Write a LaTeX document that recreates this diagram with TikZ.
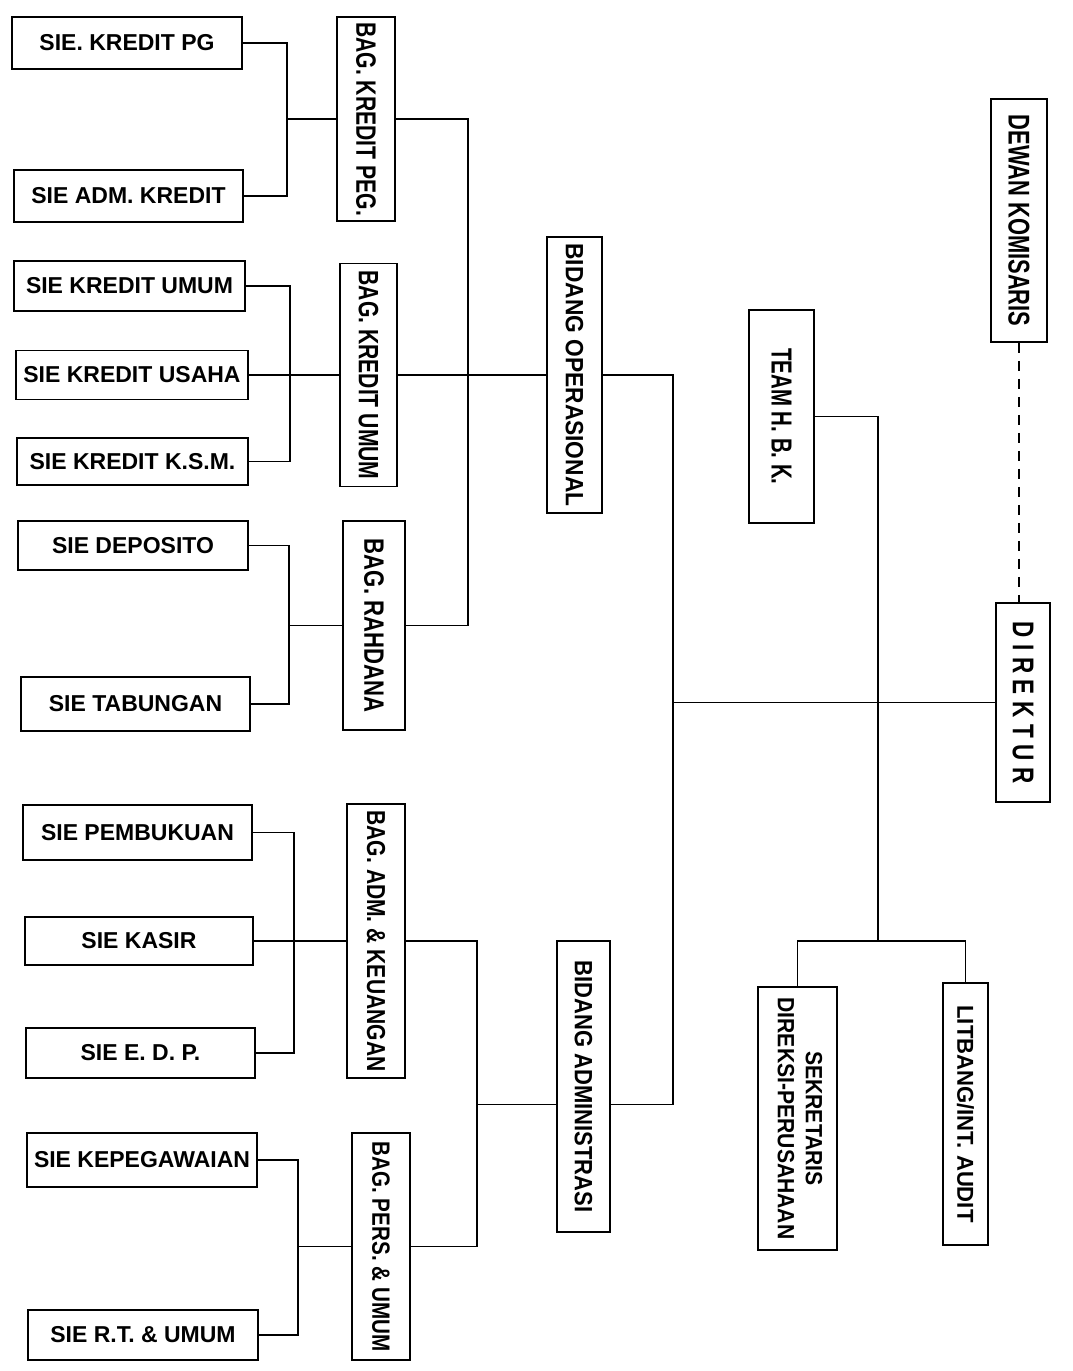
\documentclass[tikz,border=0pt]{standalone}
\usepackage{fontspec}
\setmainfont{Liberation Sans}
\usepackage{graphicx}
\newcommand{\vtext}[3]{\rotatebox{-90}{\scalebox{#2}[1]{\fontsize{#1}{#1}\selectfont #3}}}
\tikzset{
  box/.style={draw, line width=1.7pt, inner sep=0pt, font=\bfseries, align=center},
  hbox/.style={box, font=\bfseries\fontsize{23}{23}\selectfont},
  conn/.style={line width=1.6pt},
  dashconn/.style={line width=1.6pt, dash pattern=on 10pt off 8pt}
}
\begin{document}
\begin{tikzpicture}[x=1pt, y=-1pt]
\path[use as bounding box, fill=white] (0,0) rectangle (1072,1371);

% section boxes
\node[hbox, minimum width=230pt, minimum height=52pt] (kpg) at (127,43) {SIE. KREDIT PG};
\node[hbox, minimum width=229pt, minimum height=52pt] (kadm) at (128.5,196) {SIE ADM. KREDIT};
\node[hbox, minimum width=231pt, minimum height=50pt] (kum) at (129.5,286) {SIE KREDIT UMUM};
\node[hbox, minimum width=232pt, minimum height=49pt] (kus) at (132,375) {SIE KREDIT USAHA};
\node[hbox, minimum width=231pt, minimum height=47pt] (ksm) at (132.5,461.5) {SIE KREDIT K.S.M.};
\node[hbox, minimum width=230pt, minimum height=49pt] (dep) at (133,545.5) {SIE DEPOSITO};
\node[hbox, minimum width=229pt, minimum height=54pt] (tab) at (135.5,704) {SIE TABUNGAN};
\node[hbox, minimum width=229pt, minimum height=55pt] (pem) at (137.5,832.5) {SIE PEMBUKUAN};
\node[hbox, minimum width=228pt, minimum height=48pt] (kas) at (139,941) {SIE KASIR};
\node[hbox, minimum width=229pt, minimum height=50pt] (edp) at (140.5,1053) {SIE E. D. P.};
\node[hbox, minimum width=230pt, minimum height=54pt] (kep) at (142,1160) {SIE KEPEGAWAIAN};
\node[hbox, minimum width=230pt, minimum height=50pt] (rt) at (143,1335) {SIE R.T. \& UMUM};

% bagian boxes
\node[box, minimum width=58pt, minimum height=204pt] (bkp) at (366,119) {\vtext{28}{0.755}{BAG. KREDIT PEG.}};
\node[box, minimum width=57pt, minimum height=223pt] (bku) at (368.5,375) {\vtext{28}{0.755}{BAG. KREDIT UMUM}};
\node[box, minimum width=62pt, minimum height=209pt] (brd) at (374,625.5) {\vtext{28}{0.79}{BAG. RAHDANA}};
\node[box, minimum width=58pt, minimum height=274pt] (badm) at (376,941) {\vtext{26}{0.81}{BAG. ADM. \& KEUANGAN}};
\node[box, minimum width=58pt, minimum height=227pt] (bpers) at (381,1246.5) {\vtext{25}{0.825}{BAG. PERS. \& UMUM}};

% bidang boxes
\node[box, minimum width=55pt, minimum height=276pt] (bop) at (574.5,375) {\vtext{25}{0.91}{BIDANG OPERASIONAL}};
\node[box, minimum width=53pt, minimum height=291pt] (bad) at (583.5,1086.5) {\vtext{25}{0.88}{BIDANG ADMINISTRASI}};

% top level
\node[box, minimum width=65pt, minimum height=213pt] (team) at (781.5,416.5) {\vtext{29}{0.705}{TEAM H. B. K.}};
\node[box, minimum width=56pt, minimum height=243pt] (dewan) at (1019,220.5) {\vtext{30}{0.73}{DEWAN KOMISARIS}};
\node[box, minimum width=54pt, minimum height=199pt] (dir) at (1023,702.5) {\vtext{30}{0.75}{\addfontfeature{LetterSpace=29}DIREKTUR}};
\node[box, minimum width=79pt, minimum height=263pt] (sek) at (797.5,1118.5) {\vtext{23.5}{0.9}{\fontsize{23.5}{28}\selectfont\begin{tabular}{@{}c@{}}SEKRETARIS\\DIREKSI-PERUSAHAAN\end{tabular}}};
\node[box, minimum width=45pt, minimum height=262pt] (lit) at (965.5,1114) {\vtext{23}{0.96}{LITBANG/INT. AUDIT}};

% connectors: sections to bagian
\coordinate (t1) at (287,43);
\draw[conn] (kpg.east) -| (t1) |- (kadm.east);
\draw[conn] (bkp.west) -- (bkp.west -| t1);

\coordinate (t2) at (290,286);
\draw[conn] (kum.east) -| (t2) |- (ksm.east);
\draw[conn] (kus.east) -- (bku.west);

\coordinate (t3) at (289,545.5);
\draw[conn] (dep.east) -| (t3) |- (tab.east);
\draw[conn] (brd.west) -- (brd.west -| t3);

\coordinate (t4) at (294,832.5);
\draw[conn] (pem.east) -| (t4) |- (edp.east);
\draw[conn] (kas.east) -- (badm.west);

\coordinate (t5) at (298,1160);
\draw[conn] (kep.east) -| (t5) |- (rt.east);
\draw[conn] (bpers.west) -- (bpers.west -| t5);

% bagian to bidang
\coordinate (u1) at (468,119);
\draw[conn] (bkp.east) -| (u1) |- (brd.east);
\draw[conn] (bku.east) -- (bop.west);

\coordinate (u2) at (477,941);
\draw[conn] (badm.east) -| (u2) |- (bpers.east);
\coordinate (jadw) at ([yshift=-18pt]bad.west);
\draw[conn] (jadw) -- (jadw -| u2);

% bidang to direktur
\coordinate (v) at (673,375);
\coordinate (jade) at ([yshift=-18pt]bad.east);
\draw[conn] (bop.east) -| (v) |- (jade);
\draw[conn] (dir.west) -- (dir.west -| v);

% staff
\coordinate (w) at (878,941);
\draw[conn] (team.east) -| (w);
\draw[conn] (sek.north) |- (w) -| (lit.north);

% dewan komisaris
\draw[dashconn] (dewan.south) -- (dewan.south |- dir.north);
\end{tikzpicture}
\end{document}
